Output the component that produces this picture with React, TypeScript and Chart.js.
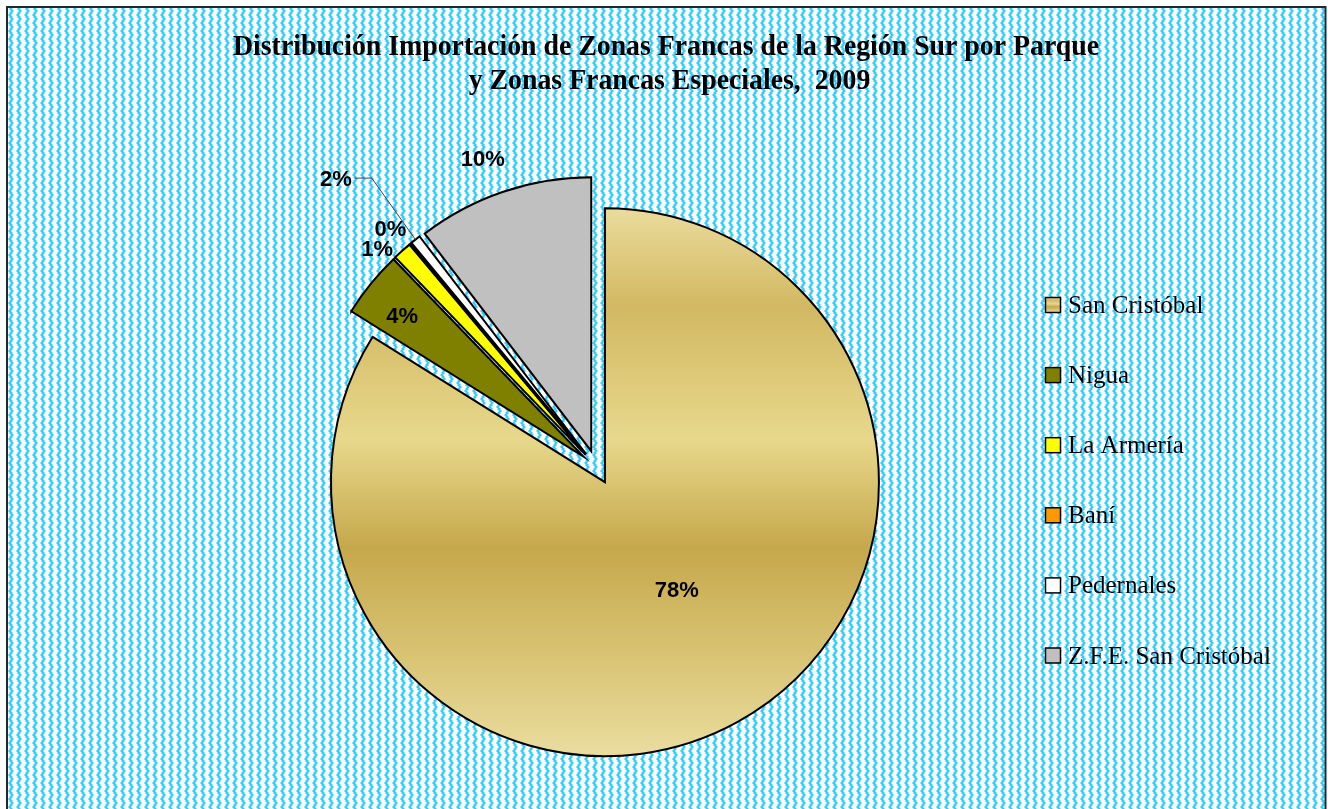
import React, { useEffect, useRef } from "react";
import { Chart, registerables } from "chart.js";

Chart.register(...registerables);

// ---- data ----
const categories = [
  "San Cristóbal",
  "Nigua",
  "La Armería",
  "Baní",
  "Pedernales",
  "Z.F.E. San Cristóbal",
];
const shares = [83.9, 3.9, 1.1, 0.1, 0.6, 10.4];
const shareLabels = ["78%", "4%", "1%", "0%", "2%", "10%"];
const titleLines = [
  "Distribución Importación de Zonas Francas de la Región Sur por Parque",
  "y Zonas Francas Especiales,  2009",
];

// ---- styles ----
const sliceColors = ["#D8C070", "#808000", "#FFFF00", "#FF9900", "#FFFFFF", "#C0C0C0"];
const gradStops: [number, string][] = [
  [0, "#EADC9C"],
  [0.18, "#D2B862"],
  [0.42, "#E7D88C"],
  [0.62, "#C6A84C"],
  [0.82, "#D9C474"],
  [1, "#EADDA0"],
];
const RADIUS = 274;
const EXPLODE = 17;
// label placement relative to each slice: angle shift (deg), distance factor of radius
const labelPlace = [
  { dA: -4.4, f: 0.477 },
  { dA: -1.4, f: 0.836 },
  { dA: -3.5, f: 1.066 },
  { dA: -1.3, f: 1.086 },
  { dA: -3.9, f: 1.354 },
  { dA: -1.7, f: 1.134 },
];

function makePattern(): CanvasPattern | string {
  const c = document.createElement("canvas");
  c.width = 8;
  c.height = 8;
  const g = c.getContext("2d");
  if (!g) return "#9EE3FF";
  g.fillStyle = "#FFFFFF";
  g.fillRect(0, 0, 8, 8);
  const xs = [2, 2, 3, 3, 2, 2, 1, 1];
  for (let y = 0; y < 8; y++) {
    g.fillStyle = "#33CCFF";
    g.fillRect(xs[y], y, 2, 1);
    g.fillStyle = "#99E4FF";
    g.fillRect(xs[y] + 2, y, 1, 1);
    g.fillRect(xs[y] - 1, y, 1, 1);
  }
  const p = g.createPattern(c, "repeat");
  return p || "#9EE3FF";
}

function scGradient(ctx: CanvasRenderingContext2D, top: number, bottom: number) {
  const gr = ctx.createLinearGradient(0, top, 0, bottom);
  gradStops.forEach(([o, col]) => gr.addColorStop(o, col));
  return gr;
}

const total = shares.reduce((a, b) => a + b, 0);

const bgPlugin = {
  id: "bgPlugin",
  beforeDraw(chart: any) {
    const ctx = chart.ctx as CanvasRenderingContext2D;
    const W = chart.width;
    const H = chart.height;
    ctx.save();
    ctx.fillStyle = "#FFFFFF";
    ctx.fillRect(0, 0, W, H);
    ctx.fillStyle = makePattern() as any;
    ctx.fillRect(7, 7, W - 9, H - 7);
    ctx.strokeStyle = "#1E2A2E";
    ctx.lineWidth = 2;
    ctx.beginPath();
    ctx.moveTo(7, H + 5);
    ctx.lineTo(7, 7);
    ctx.lineTo(W - 2.5, 7);
    ctx.lineTo(W - 2.5, H + 5);
    ctx.stroke();
    ctx.restore();
  },
};

const explodePlugin = {
  id: "explodePlugin",
  afterDatasetUpdate(chart: any, args: any) {
    const meta = args.meta;
    meta.data.forEach((el: any) => {
      const mid = (el.startAngle + el.endAngle) / 2;
      el.x += Math.cos(mid) * EXPLODE;
      el.y += Math.sin(mid) * EXPLODE;
    });
  },
};

const decorPlugin = {
  id: "decorPlugin",
  afterDraw(chart: any) {
    const ctx = chart.ctx as CanvasRenderingContext2D;
    ctx.save();
    // title
    ctx.fillStyle = "#000";
    ctx.font = "bold 29px 'Liberation Serif', 'Times New Roman', serif";
    ctx.textAlign = "center";
    ctx.textBaseline = "alphabetic";
    const w1 = ctx.measureText(titleLines[0]).width;
    const sx = 866 / w1;
    const centers = [666, 669.5];
    const bases = [54.5, 88.5];
    titleLines.forEach((t, i) => {
      ctx.save();
      ctx.translate(centers[i], bases[i]);
      ctx.scale(sx, 1);
      ctx.fillText(t, 0, 0);
      ctx.restore();
    });

    // data labels
    const meta = chart.getDatasetMeta(0);
    ctx.font = "bold 22px 'Liberation Sans', Arial, sans-serif";
    ctx.textAlign = "center";
    ctx.textBaseline = "middle";
    meta.data.forEach((el: any, i: number) => {
      const mid = (el.startAngle + el.endAngle) / 2;
      const p = labelPlace[i];
      const a = mid + (p.dA * Math.PI) / 180;
      const r = el.outerRadius * p.f;
      const lx = el.x + Math.cos(a) * r;
      const ly = el.y + Math.sin(a) * r;
      ctx.fillStyle = "#000";
      ctx.fillText(shareLabels[i], lx, ly);
      if (p.f > 1.25) {
        // leader line
        const tw = ctx.measureText(shareLabels[i]).width;
        const sx0 = lx + tw / 2 + 3;
        const sy0 = ly - 2;
        const ex = el.x + Math.cos(mid) * el.outerRadius;
        const ey = el.y + Math.sin(mid) * el.outerRadius;
        ctx.strokeStyle = "#444";
        ctx.lineWidth = 1;
        ctx.beginPath();
        ctx.moveTo(sx0, sy0);
        ctx.lineTo(sx0 + 17, sy0);
        ctx.lineTo(ex, ey);
        ctx.stroke();
      }
    });

    // legend
    ctx.font = "25px 'Liberation Serif', 'Times New Roman', serif";
    ctx.textAlign = "left";
    ctx.textBaseline = "alphabetic";
    categories.forEach((name, i) => {
      const cy = 305 + i * 70.1;
      const bx = 1045.5;
      const by = cy - 7.5;
      ctx.fillStyle = i === 0 ? scGradient(ctx, by, by + 15) : sliceColors[i];
      ctx.fillRect(bx, by, 15, 15);
      ctx.strokeStyle = "#000";
      ctx.lineWidth = 1.5;
      ctx.strokeRect(bx, by, 15, 15);
      ctx.fillStyle = "#000";
      ctx.fillText(name, 1068, cy + 8);
    });
    ctx.restore();
  },
};

export default function App() {
  const ref = useRef<HTMLCanvasElement | null>(null);
  useEffect(() => {
    if (!ref.current) return;
    const chart = new Chart(ref.current, {
      type: "pie",
      data: {
        labels: categories,
        datasets: [
          {
            data: shares,
            backgroundColor: (c: any) => {
              if (c.dataIndex === 0) {
                const ca = c.chart.chartArea;
                if (!ca) return sliceColors[0];
                const cy0 = (ca.top + ca.bottom) / 2;
                const mid = (shares[0] / total) * Math.PI - Math.PI / 2;
                const cy = cy0 + Math.sin(mid) * EXPLODE;
                return scGradient(c.chart.ctx, cy - RADIUS, cy + RADIUS);
              }
              return sliceColors[c.dataIndex];
            },
            borderColor: "#000000",
            borderWidth: 2,
            borderJoinStyle: "miter",
            offset: 0,
            hoverOffset: 0,
            radius: RADIUS,
            clip: false,
          } as any,
        ],
      },
      options: {
        responsive: false,
        animation: false,
        events: [],
        layout: { padding: { left: 300, right: 434.6, top: 160, bottom: 34.4 } },
        plugins: {
          legend: { display: false },
          title: { display: false },
          tooltip: { enabled: false },
        },
      },
      plugins: [bgPlugin, explodePlugin, decorPlugin],
    });
    return () => chart.destroy();
  }, []);
  return (
    <div style={{ position: "fixed", left: 0, top: 0, width: 1328, height: 809 }}>
      <canvas ref={ref} width={1328} height={809} style={{ display: "block" }} />
    </div>
  );
}
